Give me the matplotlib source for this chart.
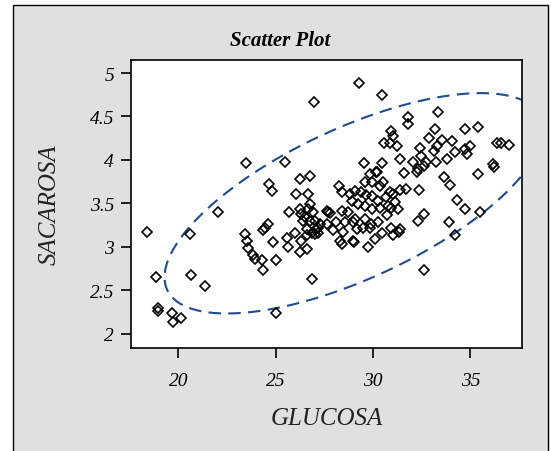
import numpy as np
import matplotlib.pyplot as plt
from matplotlib.patches import Rectangle

# GLUCOSA / SACAROSA observations
glucosa = [
    18.37, 18.83, 18.93, 18.93, 19.65, 19.73, 20.13, 20.59, 20.64, 21.34,
    22.04, 23.45, 25.00, 26.86, 26.97, 29.28, 30.46, 32.62,
    23.41, 23.50, 23.58, 23.84, 23.93, 24.27, 24.35, 24.99, 24.87, 24.32,
    24.45, 24.61, 24.66, 24.78, 25.48, 25.55, 25.62, 25.69, 25.98, 26.03,
    26.22, 26.24, 26.32, 26.24, 26.61, 26.32, 26.61, 26.41, 26.49, 26.63,
    26.75, 26.75, 26.92, 26.66, 26.77, 26.84, 27.15, 27.09, 27.26, 27.00,
    27.18, 27.00, 26.58, 27.61, 27.61, 27.69,
    27.78, 27.95, 28.09, 28.38, 28.38, 28.46, 28.55, 28.98, 29.01, 29.15,
    29.49, 29.74, 29.87, 30.44, 30.94, 31.34, 30.73, 30.91, 28.25, 28.38,
    28.80, 29.06, 29.40, 29.66, 29.92, 30.26, 30.65, 31.03, 31.11, 30.77,
    31.28, 28.89, 29.23, 29.57, 29.92, 30.34, 28.72, 29.06, 29.57, 30.26,
    29.83, 28.97, 28.29, 30.08, 31.03, 31.37, 32.31,
    29.54, 30.46, 30.14, 29.83, 30.20, 29.57, 29.92, 30.34, 30.51, 31.61,
    32.27, 32.31, 31.37, 31.70, 30.86, 32.35,
    30.91, 31.03, 30.57, 30.86, 31.25, 31.77, 31.77, 33.34, 33.17, 34.74,
    35.39, 32.88, 33.56, 34.07, 33.29, 32.40, 33.13, 34.96, 34.74, 34.82,
    34.19, 36.39, 36.56, 36.98, 31.40, 32.05, 32.48, 32.74, 32.62, 33.25,
    33.80, 33.65, 33.94, 35.39, 36.16, 36.21, 34.30,
    32.62, 34.74, 35.48, 33.90, 34.19,
]
sacarosa = [
    3.17, 2.65, 2.30, 2.26, 2.24, 2.13, 2.18, 3.15, 2.68, 2.55,
    3.40, 3.96, 2.24, 2.63, 4.67, 4.88, 4.75, 2.73,
    3.15, 3.07, 2.99, 2.90, 2.86, 2.85, 2.73, 2.85, 3.06, 3.19,
    3.22, 3.26, 3.72, 3.64, 3.98, 3.10, 3.00, 3.40, 3.16, 3.61,
    3.78, 3.43, 3.38, 2.94, 2.97, 3.07, 3.13, 3.30, 3.34, 3.43,
    3.49, 3.30, 3.40, 3.61, 3.82, 3.16, 3.16, 3.20, 3.26, 3.30,
    3.22, 3.15, 3.20, 3.41, 3.26, 3.40,
    3.39, 3.19, 3.28, 3.41, 3.03, 3.17, 3.28, 3.28, 3.05, 3.20,
    3.22, 3.00, 3.26, 3.16, 3.21, 3.17, 3.36, 3.45, 3.70, 3.63,
    3.61, 3.64, 3.63, 3.59, 3.58, 3.53, 3.57, 3.61, 3.51, 3.47,
    3.43, 3.53, 3.49, 3.47, 3.43, 3.45, 3.40, 3.32, 3.32, 3.28,
    3.22, 3.07, 3.07, 3.09, 3.13, 3.20, 3.30,
    3.96, 3.96, 3.86, 3.84, 3.86, 3.74, 3.75, 3.70, 3.74, 3.85,
    3.86, 3.89, 3.65, 3.67, 3.63, 3.65,
    4.33, 4.27, 4.19, 4.19, 4.16, 4.49, 4.41, 4.55, 4.36, 4.36,
    4.38, 4.25, 4.23, 4.22, 4.16, 4.14, 4.10, 4.16, 4.12, 4.07,
    4.09, 4.19, 4.19, 4.17, 4.01, 3.98, 4.05, 3.97, 3.93, 3.98,
    4.01, 3.80, 3.71, 3.84, 3.95, 3.92, 3.54,
    3.38, 3.44, 3.40, 3.28, 3.13,
]

x_ticks = [20, 25, 30, 35]
y_ticks = [2, 2.5, 3, 3.5, 4, 4.5, 5]
chi2_95 = 5.991  # 95% quantile, chi-square with 2 df

gx = np.array(glucosa)
sy = np.array(sacarosa)

# 95% prediction ellipse from sample mean and covariance
center = np.array([gx.mean(), sy.mean()])
cov = np.cov(gx, sy)
vals, vecs = np.linalg.eigh(cov)
t = np.linspace(0, 2 * np.pi, 400)
circle = np.vstack([np.cos(t), np.sin(t)])
ell = vecs @ (np.sqrt(vals * chi2_95)[:, None] * circle) + center[:, None]

fig = plt.figure(figsize=(5.51, 4.52), dpi=100)
fig.patch.set_facecolor('white')
fig.patches.append(Rectangle((12.5 / 551, -0.05), 535.5 / 551, 1.05 - 6 / 452,
                             transform=fig.transFigure, facecolor='#e0e0e0',
                             edgecolor='black', linewidth=1.0, zorder=-1))

ax = fig.add_axes([131 / 551, 1 - 349 / 452, 391 / 551, 288 / 452])
ax.set_facecolor('white')

ax.plot(ell[0], ell[1], color='#1f4a94', linewidth=1.5, dashes=(6, 3.5))
ax.plot(gx, sy, linestyle='none', marker='D', markersize=5.1,
        markerfacecolor='none', markeredgecolor='black', markeredgewidth=1.2)

ax.set_xlim(17.56, 37.65)
ax.set_ylim(1.834, 5.15)
ax.set_xticks(x_ticks)
ax.set_yticks(y_ticks)
ax.set_xticklabels([str(v) for v in x_ticks])
ax.set_yticklabels([f'{v:g}' for v in y_ticks])

for s in ax.spines.values():
    s.set_linewidth(1.2)
ax.tick_params(direction='out', length=7.2, width=1.2, labelsize=14)
ax.tick_params(axis='x', pad=10)
ax.tick_params(axis='y', pad=5)
for lab in ax.get_xticklabels() + ax.get_yticklabels():
    lab.set_family('Liberation Serif')
    lab.set_style('italic')

ax.set_xlabel('GLUCOSA', family='Liberation Serif', style='italic', fontsize=18, color='#222222')
ax.set_ylabel('SACAROSA', family='Liberation Serif', style='italic', fontsize=18, color='#222222')
ax.xaxis.set_label_coords(0.5, -0.205)
ax.yaxis.set_label_coords(-0.18, 0.5)

fig.text(280 / 551, 1 - 41 / 452, 'Scatter Plot', family='Liberation Serif',
         style='italic', weight='bold', fontsize=15, ha='center', va='center')

fig.savefig('out.png', dpi=100)
